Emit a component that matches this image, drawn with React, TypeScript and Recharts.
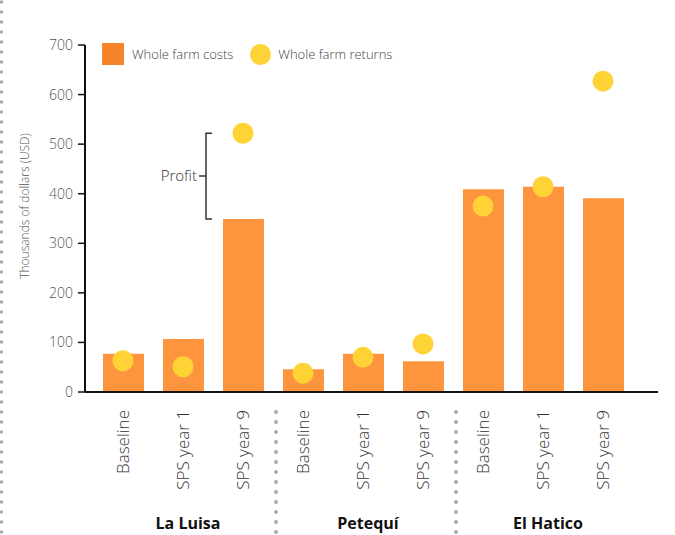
import React from 'react';
import {
  ComposedChart,
  Bar,
  Line,
  XAxis,
  YAxis,
  Legend,
  ReferenceLine,
} from 'recharts';

const farms = ['La Luisa', 'Petequí', 'El Hatico'];
const scenarios = ['Baseline', 'SPS year 1', 'SPS year 9'];
const costs = [77, 107, 349, 46, 77, 62, 409, 414, 391];
const returns = [63, 51, 522, 38, 70, 97, 375, 414, 627];
const yTicks = [0, 100, 200, 300, 400, 500, 600, 700];

const data = costs.map((c, i) => ({
  key: `${farms[Math.floor(i / 3)]}|${scenarios[i % 3]}`,
  farm: farms[Math.floor(i / 3)],
  scenario: scenarios[i % 3],
  pos: i % 3,
  costs: c,
  returns: returns[i],
}));

const FONT = '"Open Sans", Lato, sans-serif';
const BAR = '#FD943E';
const DOT = '#FFD335';
const LEGEND_SQ = '#F5842B';

const XTick = (props: any) => {
  const { x, payload, index } = props;
  const d = data.find((dd) => dd.key === payload.value) || data[index];
  return (
    <g>
      <text
        transform={`translate(${x + 6},410) rotate(-90)`}
        textAnchor="end"
        fontSize={17}
        fontWeight={300}
        fontFamily={FONT}
        fill="#333"
      >
        {d.scenario}
      </text>
      {d.pos === 1 && (
        <text
          x={x + 5}
          y={529}
          textAnchor="middle"
          fontSize={16}
          fontWeight={700}
          fontFamily={FONT}
          fill="#111"
        >
          {d.farm}
        </text>
      )}
      {d.pos === 2 && index < data.length - 1 && (
        <line
          x1={x + 33}
          x2={x + 33}
          y1={412}
          y2={540}
          stroke="#aaa"
          strokeWidth={4}
          strokeDasharray="0 10"
          strokeLinecap="round"
        />
      )}
    </g>
  );
};

const renderLegend = () => (
  <div
    style={{
      display: 'flex',
      alignItems: 'center',
      fontFamily: FONT,
      fontWeight: 300,
      fontSize: 13,
      color: '#444',
      whiteSpace: 'nowrap',
      height: 22,
    }}
  >
    <span style={{ display: 'inline-block', width: 22, height: 22, background: LEGEND_SQ, marginRight: 8 }} />
    <span>Whole farm costs</span>
    <span
      style={{
        display: 'inline-block',
        width: 21,
        height: 21,
        borderRadius: '50%',
        background: DOT,
        marginLeft: 17,
        marginRight: 7,
      }}
    />
    <span>Whole farm returns</span>
  </div>
);

const ProfitBracket = (props: any) => {
  const { x1, y1, y2 } = props;
  const bx = x1 - 37;
  const top = Math.min(y1, y2);
  const bottom = Math.max(y1, y2);
  const mid = (top + bottom) / 2;
  return (
    <g>
      <path
        d={`M${bx + 6},${top} H${bx} V${bottom} H${bx + 6} M${bx},${mid} H${bx - 7}`}
        fill="none"
        stroke="#333"
        strokeWidth={1.5}
      />
      <text
        x={bx - 9}
        y={mid}
        dy="0.35em"
        textAnchor="end"
        fontSize={15}
        fontWeight={300}
        fontFamily={FONT}
        fill="#333"
      >
        Profit
      </text>
    </g>
  );
};

export default function App() {
  return (
    <div style={{ position: 'absolute', left: 0, top: 0, width: 675, height: 535, background: '#fff' }}>
      <svg style={{ position: 'absolute', left: 0, top: 0 }} width={6} height={535}>
        <line
          x1={1.5}
          x2={1.5}
          y1={2}
          y2={535}
          stroke="#aaa"
          strokeWidth={3.5}
          strokeDasharray="0 10"
          strokeLinecap="round"
        />
      </svg>
      <ComposedChart
        width={675}
        height={535}
        data={data}
        margin={{ top: 45, right: 17, bottom: 0, left: 0 }}
      >
        <XAxis
          dataKey="key"
          interval={0}
          height={143}
          padding={{ left: 8, right: 25 }}
          axisLine={{ stroke: '#111', strokeWidth: 2 }}
          tickLine={false}
          tick={<XTick />}
        />
        <YAxis
          domain={[0, 700]}
          ticks={yTicks}
          width={85}
          axisLine={{ stroke: '#111', strokeWidth: 2 }}
          tickLine={{ stroke: '#111', strokeWidth: 1.5 }}
          tickSize={7}
          tickMargin={5}
          tick={{ fontSize: 14, fill: '#555', fontFamily: FONT, fontWeight: 300 }}
          label={{
            content: () => (
              <text
                transform="translate(29,206) rotate(-90)"
                textAnchor="middle"
                fontSize={12}
                fontWeight={300}
                fontFamily={FONT}
                fill="#555"
              >
                Thousands of dollars (USD)
              </text>
            ),
          }}
        />
        <Legend
          layout="vertical"
          align="center"
          verticalAlign="middle"
          wrapperStyle={{ position: 'absolute', top: 43, left: 102, width: 340, height: 22 }}
          content={renderLegend}
        />
        <Bar dataKey="costs" fill={BAR} barSize={41} isAnimationActive={false} />
        <Line
          dataKey="returns"
          stroke="none"
          dot={{ r: 10.5, fill: DOT, stroke: 'none' }}
          activeDot={false}
          isAnimationActive={false}
        />
        <ReferenceLine
          segment={[
            { x: data[2].key, y: costs[2] },
            { x: data[2].key, y: returns[2] },
          ]}
          shape={(p: any) => <ProfitBracket {...p} />}
        />
      </ComposedChart>
    </div>
  );
}
